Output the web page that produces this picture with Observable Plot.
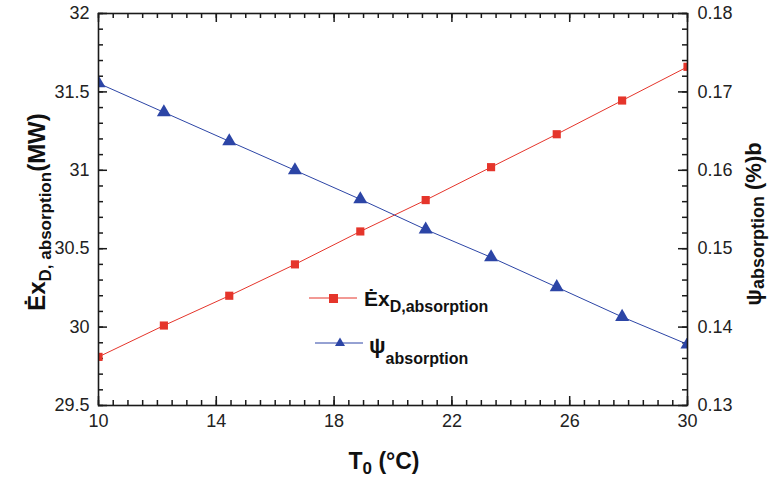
<!DOCTYPE html>
<html>
<head>
<meta charset="utf-8">
<script src="https://cdn.jsdelivr.net/npm/d3@7"></script>
<script src="https://cdn.jsdelivr.net/npm/@observablehq/plot@0.6"></script>
<style>
  html, body { margin: 0; padding: 0; background: #fff; }
  #chart { width: 769px; height: 478px; }
</style>
</head>
<body>
<div id="chart"></div>
<script>
// Data
const T0 = [10, 12.22, 14.44, 16.67, 18.89, 21.11, 23.33, 25.56, 27.78, 30];
const exergyDestruction = [29.81, 30.01, 30.20, 30.40, 30.61, 30.81, 31.02, 31.23, 31.445, 31.66]; // MW (left axis)
const psiAbsorption = [0.1711, 0.1674, 0.1637, 0.1600, 0.1563, 0.15245, 0.1489, 0.1451, 0.1413, 0.1378]; // right axis

const xMajor = [10, 14, 18, 22, 26, 30];
const yLeftMajor = [29.5, 30, 30.5, 31, 31.5, 32];
const yRightMajor = [0.13, 0.14, 0.15, 0.16, 0.17, 0.18];

// Axis domains
const xDomain = [10, 30];
const leftDomain = [29.5, 32];
const rightDomain = [0.13, 0.18];

// map right-axis values onto the left scale
const toLeft = d3.scaleLinear().domain(rightDomain).range(leftDomain);

const redData = T0.map((t, i) => ({t, v: exergyDestruction[i]}));
const blueData = T0.map((t, i) => ({t, v: toLeft(psiAbsorption[i])}));

const xMinor = d3.range(10, 30.001, 0.5);
const yMinor = d3.range(29.5, 32.001, 0.1);

const W = 769, H = 478;
const mL = 98, mR = 82, mT = 13, mB = 73;
const innerW = W - mL - mR, innerH = H - mT - mB;
const major = 9, minor = 5;
const RED = "#e5352b", BLUE = "#2c45a6", INK = "#1a1a1a";

// tick length in pixels -> data units
const dxPer = (xDomain[1] - xDomain[0]) / innerW;
const dyPer = (leftDomain[1] - leftDomain[0]) / innerH;
const tickStyle = {stroke: INK, strokeWidth: 1.5};

const xTicks = (data, len) => [
  Plot.ruleX(data, {x: d => d, y1: leftDomain[0], y2: leftDomain[0] + len * dyPer, ...tickStyle}),
  Plot.ruleX(data, {x: d => d, y1: leftDomain[1], y2: leftDomain[1] - len * dyPer, ...tickStyle})
];
const yTicks = (data, len, side) => Plot.ruleY(data, {
  y: d => d,
  x1: side === "left" ? xDomain[0] : xDomain[1],
  x2: side === "left" ? xDomain[0] + len * dxPer : xDomain[1] - len * dxPer,
  ...tickStyle
});

const svg = Plot.plot({
  width: W, height: H,
  marginLeft: mL, marginRight: mR, marginTop: mT, marginBottom: mB,
  style: {fontFamily: "'Liberation Sans', Arial, sans-serif", fontSize: "18px", color: "#222", background: "#fff"},
  x: {domain: xDomain, label: null},
  y: {domain: leftDomain, label: null},
  marks: [
    // inward ticks on all four sides
    xTicks(xMinor, minor),
    xTicks(xMajor, major),
    yTicks(yMinor, minor, "left"),
    yTicks(yLeftMajor, major, "left"),
    yTicks(yMinor, minor, "right"),
    yTicks(yRightMajor.map(toLeft), major, "right"),
    // tick labels
    Plot.axisX({ticks: xMajor, tickSize: 0, tickPadding: 9, fontSize: 18, tickFormat: d => String(d)}),
    Plot.axisY({ticks: yLeftMajor, tickSize: 0, tickPadding: 9, fontSize: 18, tickFormat: d => String(d)}),
    Plot.axisY({anchor: "right", ticks: yRightMajor.map(toLeft), tickSize: 0, tickPadding: 10, fontSize: 18,
      tickFormat: d => d3.format(".2f")(toLeft.invert(d))}),
    // series
    Plot.line(redData, {x: "t", y: "v", stroke: RED, strokeWidth: 1}),
    Plot.dot(redData, {x: "t", y: "v", symbol: "square", r: 4.6, fill: RED, stroke: "none", clip: true}),
    Plot.line(blueData, {x: "t", y: "v", stroke: BLUE, strokeWidth: 1}),
    Plot.dot(blueData, {x: "t", y: "v", symbol: "triangle", r: 5.2, fill: BLUE, stroke: "none", clip: true}),
    Plot.frame({stroke: INK, strokeWidth: 1.6})
  ]
});

const s = d3.select(svg);
const font = "'Liberation Sans', Arial, sans-serif";
const addText = (attrs) => {
  const t = s.append("text").attr("font-family", font).attr("font-weight", "bold").attr("fill", "#111");
  for (const k in attrs) t.attr(k, attrs[k]);
  return t;
};

// x axis title
const xt = addText({x: 384, y: 469, "text-anchor": "middle", "font-size": 23});
xt.append("tspan").text("T");
xt.append("tspan").attr("dy", 5).attr("font-size", 17).text("0");
xt.append("tspan").attr("dy", -5).text(" (°C)");

// left y title
const yl = addText({transform: "translate(45,212) rotate(-90)", "text-anchor": "middle", "font-size": 24});
yl.append("tspan").text("Ėx");
yl.append("tspan").attr("dy", 6).attr("font-size", 17).text("D, absorption");
yl.append("tspan").attr("dy", -6).text("(MW)");

// right y title
const yr = addText({transform: "translate(761,224) rotate(-90)", "text-anchor": "middle", "font-size": 22});
yr.append("tspan").text("ψ");
yr.append("tspan").attr("dy", 3).attr("font-size", 18).text("absorption");
yr.append("tspan").attr("dy", -3).text(" (%)b");

// legend
const lg = s.append("g");
lg.append("line").attr("x1", 309).attr("x2", 357).attr("y1", 298).attr("y2", 298).attr("stroke", RED).attr("stroke-width", 1);
lg.append("rect").attr("x", 329).attr("y", 294).attr("width", 9).attr("height", 9).attr("fill", RED);
const l1 = addText({x: 364, y: 306, "text-anchor": "start", "font-size": 21});
l1.append("tspan").text("Ėx");
l1.append("tspan").attr("dy", 6).attr("font-size", 16).text("D,absorption");

lg.append("line").attr("x1", 315).attr("x2", 363).attr("y1", 343).attr("y2", 343).attr("stroke", BLUE).attr("stroke-width", 1);
lg.append("path").attr("d", "M340,337.5L345,346L335,346Z").attr("fill", BLUE);
const l2 = addText({x: 369, y: 353, "text-anchor": "start", "font-size": 22});
l2.append("tspan").text("ψ");
l2.append("tspan").attr("dy", 11).attr("font-size", 16).text("absorption");

document.getElementById("chart").appendChild(svg);
</script>
</body>
</html>
